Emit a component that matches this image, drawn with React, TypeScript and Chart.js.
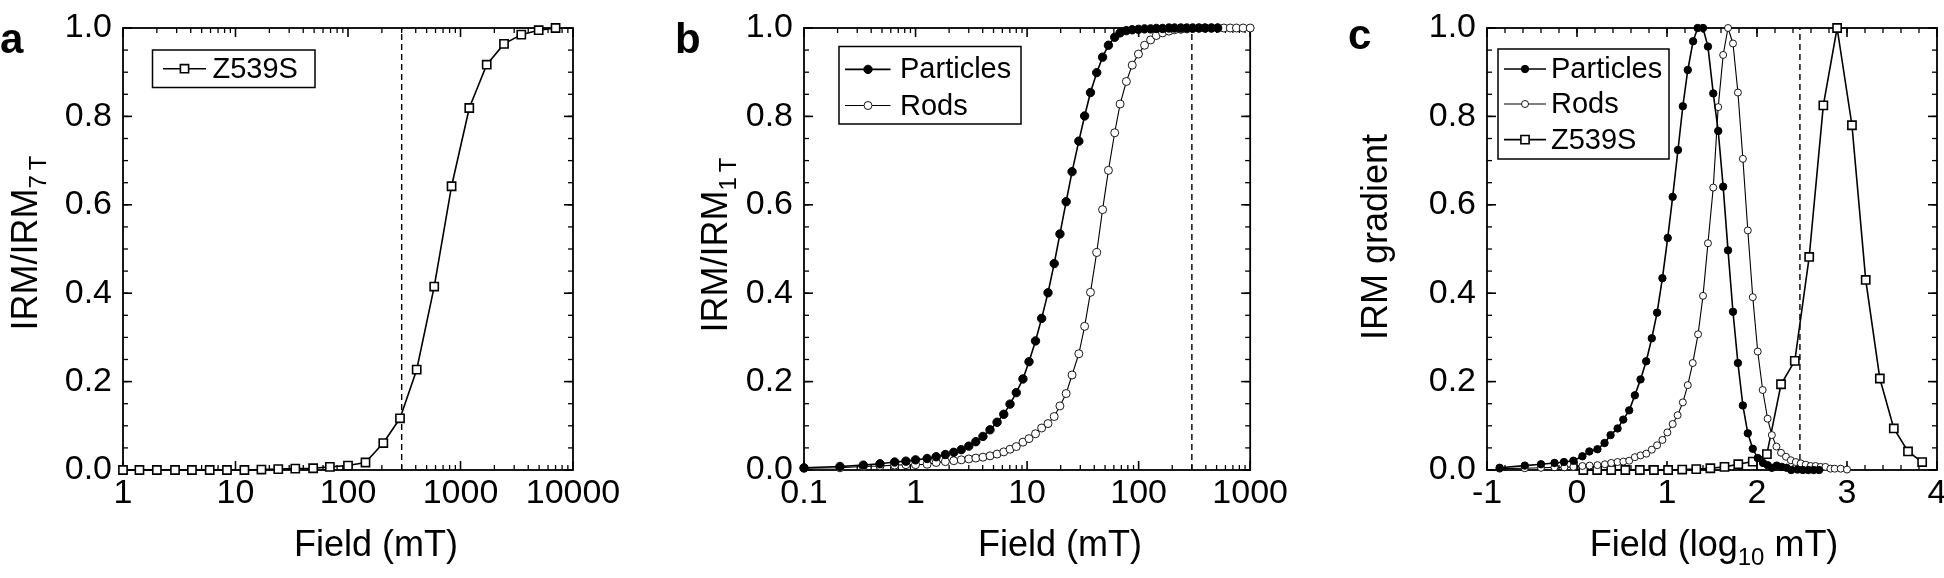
import React, { useEffect, useRef } from "react";
import { Chart, registerables } from "chart.js";
Chart.register(...registerables);

const FONT = '"Liberation Sans", Arial, Helvetica, sans-serif';
const PAGE_W = 1944;
const PAGE_H = 578;
const PLOT_TOP = 20;
const PLOT_BOTTOM = 470;

// ---------- tick labels ----------
const Y_TICKS = [0, 0.2, 0.4, 0.6, 0.8, 1.0];
const A_X_TICKS = [1, 10, 100, 1000, 10000];
const B_X_TICKS = [0.1, 1, 10, 100, 1000];
const C_X_TICKS = [-1, 0, 1, 2, 3, 4];

// ---------- vertical dashed line positions ----------
const DASH_FIELD_MT = 300;
const DASH_FIELD_LOG = 2.477;

// ---------- panel a: Z539S IRM acquisition ----------
const A_FIELD = [1, 1.4, 2, 2.9, 4.1, 5.9, 8.4, 12, 17, 24, 34, 49, 69, 100, 143, 206, 290, 408, 584, 833, 1197, 1710, 2437, 3470, 4955, 7000];
const A_IRM = [0, 0, 0, 0, 0, 0, 0, 0, 0.001, 0.002, 0.003, 0.004, 0.007, 0.01, 0.017, 0.061, 0.117, 0.227, 0.415, 0.642, 0.819, 0.917, 0.964, 0.985, 0.995, 1.0];

// ---------- panel b: particles & rods IRM acquisition ----------
const B_FIELD = [0.1, 0.21, 0.34, 0.48, 0.65, 0.82, 1.0, 1.27, 1.53, 1.85, 2.2, 2.57, 3.0, 3.47, 4.02, 4.65, 5.38, 6.18, 7.03, 8.0, 9.18, 10.4, 11.9, 13.5, 15.4, 17.5, 19.7, 22.4, 25.3, 29.1, 32.8, 37.0, 42.1, 47.5, 53.6, 61.0, 68.2, 77.6, 87.6, 99.6, 113, 128, 144, 164, 187, 210, 239, 270, 305, 347, 394, 449, 511, 581, 662, 753, 865, 1000];
const B_PARTICLES = [0.005, 0.008, 0.011, 0.014, 0.018, 0.02, 0.023, 0.026, 0.03, 0.035, 0.04, 0.046, 0.054, 0.064, 0.076, 0.091, 0.108, 0.126, 0.149, 0.175, 0.206, 0.245, 0.292, 0.343, 0.401, 0.467, 0.534, 0.607, 0.675, 0.744, 0.801, 0.854, 0.899, 0.934, 0.961, 0.979, 0.989, 0.994, 0.996, 0.997, 0.998, 0.998, 0.999, 0.999, 1.0, 1.0, 1.0, 1.0, 1.0, 1.0, 1.0, 1.0, 1.0];
const B_RODS = [0.004, 0.005, 0.008, 0.009, 0.011, 0.012, 0.012, 0.013, 0.017, 0.019, 0.021, 0.023, 0.025, 0.027, 0.029, 0.032, 0.036, 0.041, 0.047, 0.053, 0.063, 0.071, 0.082, 0.095, 0.105, 0.121, 0.145, 0.173, 0.215, 0.263, 0.325, 0.402, 0.492, 0.589, 0.678, 0.763, 0.828, 0.879, 0.916, 0.941, 0.961, 0.973, 0.983, 0.989, 0.993, 0.996, 0.997, 0.998, 0.999, 1.0, 1.0, 1.0, 1.0, 1.0, 1.0, 1.0, 1.0, 1.0];

// ---------- panel c: IRM gradients (log10 mT) ----------
const C_PART_X = [-0.86, -0.58, -0.4, -0.25, -0.145, -0.04, 0.06, 0.137, 0.227, 0.306, 0.373, 0.451, 0.514, 0.58, 0.643, 0.706, 0.769, 0.831, 0.89, 0.949, 1.008, 1.063, 1.122, 1.176, 1.231, 1.29, 1.341, 1.4, 1.455, 1.514, 1.569, 1.624, 1.678, 1.733, 1.788, 1.843, 1.898, 1.953, 2.008, 2.067, 2.118, 2.165, 2.22, 2.275, 2.33, 2.38, 2.45, 2.51, 2.57, 2.63, 2.69];
const C_PART_Y = [0.005, 0.01, 0.013, 0.016, 0.018, 0.021, 0.031, 0.042, 0.047, 0.061, 0.079, 0.094, 0.114, 0.135, 0.169, 0.205, 0.246, 0.298, 0.356, 0.434, 0.525, 0.618, 0.724, 0.823, 0.905, 0.97, 1.0, 1.0, 0.958, 0.852, 0.767, 0.641, 0.497, 0.358, 0.242, 0.146, 0.083, 0.048, 0.027, 0.016, 0.011, 0.005, 0.01, 0.007, 0.005, 0.0, 0.001, 0.0, 0.0, 0.0, 0.0];
const C_RODS_X = [-0.86, -0.58, -0.4, -0.25, -0.14, -0.04, 0.06, 0.14, 0.227, 0.31, 0.38, 0.45, 0.515, 0.58, 0.643, 0.706, 0.77, 0.831, 0.89, 0.949, 1.004, 1.063, 1.118, 1.176, 1.231, 1.286, 1.345, 1.4, 1.455, 1.514, 1.569, 1.624, 1.678, 1.733, 1.788, 1.843, 1.898, 1.953, 2.008, 2.063, 2.118, 2.165, 2.216, 2.267, 2.322, 2.376, 2.431, 2.486, 2.541, 2.596, 2.651, 2.706, 2.76, 2.816, 2.863, 2.93, 3.0];
const C_RODS_Y = [0.003, 0.004, 0.005, 0.006, 0.006, 0.007, 0.009, 0.01, 0.011, 0.013, 0.016, 0.018, 0.019, 0.021, 0.029, 0.033, 0.037, 0.046, 0.056, 0.068, 0.085, 0.104, 0.124, 0.153, 0.192, 0.242, 0.307, 0.394, 0.513, 0.639, 0.821, 0.939, 1.0, 0.965, 0.854, 0.704, 0.542, 0.391, 0.268, 0.181, 0.116, 0.079, 0.053, 0.039, 0.03, 0.022, 0.018, 0.015, 0.012, 0.009, 0.009, 0.007, 0.007, 0.003, 0.003, 0.003, 0.001];
const C_Z_X = [0.07, 0.224, 0.38, 0.537, 0.698, 0.855, 1.012, 1.169, 1.325, 1.482, 1.639, 1.792, 1.953, 2.11, 2.267, 2.42, 2.58, 2.737, 2.89, 3.055, 3.208, 3.365, 3.52, 3.678, 3.835];
const C_Z_Y = [0, 0, 0, 0, 0, 0, 0, 0.001, 0.002, 0.004, 0.007, 0.013, 0.019, 0.036, 0.194, 0.247, 0.482, 0.825, 1.0, 0.78, 0.43, 0.207, 0.094, 0.042, 0.018];

const pts = (xs: number[], ys: number[]) => ys.map((y, i) => ({ x: xs[i], y }));

type Marker = { kind: "circle" | "square"; size: number; fill: string; bw: number };
const SQUARE: Marker = { kind: "square", size: 8.2, fill: "#fff", bw: 1.6 };
const FILLED_B: Marker = { kind: "circle", size: 4.2, fill: "#000", bw: 1 };
const OPEN_B: Marker = { kind: "circle", size: 4.0, fill: "#fff", bw: 0.9 };
const FILLED_C: Marker = { kind: "circle", size: 3.7, fill: "#000", bw: 1 };
const OPEN_C: Marker = { kind: "circle", size: 3.5, fill: "#fff", bw: 0.9 };

function lineDs(label: string, data: any[], m: Marker, lw: number) {
  return {
    label,
    data,
    borderColor: "#000",
    borderWidth: lw,
    pointStyle: m.kind === "square" ? "rect" : "circle",
    pointRadius: m.kind === "square" ? m.size / Math.SQRT2 : m.size,
    pointBackgroundColor: m.fill,
    pointBorderColor: "#000",
    pointBorderWidth: m.bw,
    clip: false as const,
  };
}
function dashDs(x: number) {
  return {
    label: "dash",
    data: [{ x, y: 0 }, { x, y: 1 }],
    borderColor: "#000",
    borderWidth: 1.4,
    borderDash: [6, 4],
    pointRadius: 0,
    clip: false as const,
  };
}

type Part = [string, boolean];
type LegendRow = { label: string; y: number; m: Marker; lw: number };
type PanelCfg = {
  key: string;
  canvasL: number;
  canvasW: number;
  plotL: number;
  plotR: number;
  xType: "logarithmic" | "linear";
  xMin: number;
  xMax: number;
  xTicks: number[];
  xMinor: number[];
  datasets: any[];
  letter: string;
  letterX: number;
  letterY: number;
  xTitle: Part[];
  xTitleX: number;
  yTitle: Part[];
  yTitleX: number;
  yTitleY: number;
  legend: { box: number[]; lineX: number[]; markerX: number; textX: number; rows: LegendRow[] };
};

const logMinor = (majors: number[]) =>
  majors.slice(0, -1).flatMap((d) => [2, 3, 4, 5, 6, 7, 8, 9].map((k) => k * d));
const linMinor = (a: number, b: number, step: number) => {
  const out: number[] = [];
  for (let v = a; v <= b + 1e-9; v += step) out.push(v);
  return out;
};
const Y_MINOR = linMinor(0, 1, 0.05);

const PANELS: PanelCfg[] = [
  {
    key: "a",
    canvasL: 0,
    canvasW: 640,
    plotL: 123,
    plotR: 573,
    xType: "logarithmic",
    xMin: 1,
    xMax: 10000,
    xTicks: A_X_TICKS,
    xMinor: logMinor(A_X_TICKS),
    datasets: [
      lineDs("Z539S", pts(A_FIELD, A_IRM), SQUARE, 1.6),
      dashDs(DASH_FIELD_MT),
    ],
    letter: "a",
    letterX: 0,
    letterY: 53,
    xTitle: [["Field (mT)", false]],
    xTitleX: 376,
    yTitle: [["IRM/IRM", false], ["7\u2009T", true]],
    yTitleX: 37,
    yTitleY: 243,
    legend: {
      box: [152.5, 50, 315, 87.5],
      lineX: [163, 206],
      markerX: 184.5,
      textX: 212.5,
      rows: [{ label: "Z539S", y: 68.7, m: SQUARE, lw: 1.6 }],
    },
  },
  {
    key: "b",
    canvasL: 640,
    canvasW: 655,
    plotL: 804,
    plotR: 1254,
    xType: "logarithmic",
    xMin: 0.1,
    xMax: 1000,
    xTicks: B_X_TICKS,
    xMinor: logMinor(B_X_TICKS),
    datasets: [
      lineDs("Particles", pts(B_FIELD, B_PARTICLES), FILLED_B, 1.6),
      lineDs("Rods", pts(B_FIELD, B_RODS), OPEN_B, 1.1),
      dashDs(DASH_FIELD_MT),
    ],
    letter: "b",
    letterX: 675,
    letterY: 53,
    xTitle: [["Field (mT)", false]],
    xTitleX: 1060,
    yTitle: [["IRM/IRM", false], ["1\u2009T", true]],
    yTitleX: 727,
    yTitleY: 245,
    legend: {
      box: [839, 46.5, 1021, 124],
      lineX: [845, 890.5],
      markerX: 868,
      textX: 900,
      rows: [
        { label: "Particles", y: 69.4, m: FILLED_B, lw: 1.6 },
        { label: "Rods", y: 105.5, m: OPEN_B, lw: 1.1 },
      ],
    },
  },
  {
    key: "c",
    canvasL: 1295,
    canvasW: 700,
    plotL: 1487,
    plotR: 1937,
    xType: "linear",
    xMin: -1,
    xMax: 4,
    xTicks: C_X_TICKS,
    xMinor: linMinor(-1, 4, 0.2),
    datasets: [
      lineDs("Particles", pts(C_PART_X, C_PART_Y), FILLED_C, 1.6),
      lineDs("Rods", pts(C_RODS_X, C_RODS_Y), OPEN_C, 1.1),
      lineDs("Z539S", pts(C_Z_X, C_Z_Y), SQUARE, 1.6),
      dashDs(DASH_FIELD_LOG),
    ],
    letter: "c",
    letterX: 1348,
    letterY: 49,
    xTitle: [["Field (log", false], ["10", true], [" mT)", false]],
    xTitleX: 1714,
    yTitle: [["IRM gradient", false]],
    yTitleX: 1387,
    yTitleY: 237,
    legend: {
      box: [1498, 49, 1669, 159],
      lineX: [1504, 1546],
      markerX: 1525,
      textX: 1551,
      rows: [
        { label: "Particles", y: 69, m: FILLED_C, lw: 1.6 },
        { label: "Rods", y: 104, m: OPEN_C, lw: 1.1 },
        { label: "Z539S", y: 139.6, m: SQUARE, lw: 1.6 },
      ],
    },
  },
];

const TICK_SIZE = 34;
const TITLE_SIZE = 36;
const SUB_SIZE = 24;
const LEGEND_SIZE = 29;

function drawRich(ctx: CanvasRenderingContext2D, parts: Part[], x: number, y: number) {
  const widths = parts.map(([t, sub]) => {
    ctx.font = `${sub ? SUB_SIZE : TITLE_SIZE}px ${FONT}`;
    return ctx.measureText(t).width;
  });
  const total = widths.reduce((a, b) => a + b, 0);
  let cx = x - total / 2;
  ctx.textAlign = "left";
  ctx.textBaseline = "alphabetic";
  parts.forEach(([t, sub], i) => {
    ctx.font = `${sub ? SUB_SIZE : TITLE_SIZE}px ${FONT}`;
    ctx.fillText(t, cx, y + (sub ? 9 : 0));
    cx += widths[i];
  });
}

function drawMarker(ctx: CanvasRenderingContext2D, m: Marker, x: number, y: number) {
  ctx.beginPath();
  if (m.kind === "circle") ctx.arc(x, y, m.size, 0, Math.PI * 2);
  else ctx.rect(x - m.size / 2, y - m.size / 2, m.size, m.size);
  ctx.fillStyle = m.fill;
  ctx.fill();
  ctx.lineWidth = m.bw;
  ctx.strokeStyle = "#000";
  ctx.stroke();
}

function makeDecor(p: PanelCfg) {
  const ox = p.canvasL;
  return {
    id: "decor",
    beforeDatasetsDraw(chart: any) {
      const { ctx, chartArea: a } = chart;
      const xs = chart.scales.x;
      const ys = chart.scales.y;
      ctx.save();
      ctx.strokeStyle = "#000";
      const seg = (x1: number, y1: number, x2: number, y2: number) => {
        ctx.beginPath();
        ctx.moveTo(x1, y1);
        ctx.lineTo(x2, y2);
        ctx.stroke();
      };
      ctx.lineWidth = 1.3;
      p.xMinor.forEach((v) => {
        const x = xs.getPixelForValue(v);
        seg(x, a.bottom, x, a.bottom - 5);
        seg(x, a.top, x, a.top + 5);
      });
      Y_MINOR.forEach((v) => {
        const y = ys.getPixelForValue(v);
        seg(a.left, y, a.left + 5, y);
        seg(a.right, y, a.right - 5, y);
      });
      ctx.lineWidth = 1.6;
      p.xTicks.forEach((v) => {
        const x = xs.getPixelForValue(v);
        seg(x, a.bottom, x, a.bottom - 9);
        seg(x, a.top, x, a.top + 9);
      });
      Y_TICKS.forEach((v) => {
        const y = ys.getPixelForValue(v);
        seg(a.left, y, a.left + 9, y);
        seg(a.right, y, a.right - 9, y);
      });
      ctx.lineWidth = 1.8;
      ctx.strokeRect(a.left, a.top, a.right - a.left, a.bottom - a.top);
      ctx.restore();
    },
    afterDraw(chart: any) {
      const ctx: CanvasRenderingContext2D = chart.ctx;
      ctx.save();
      ctx.fillStyle = "#000";
      // panel letter
      ctx.font = `bold 42px ${FONT}`;
      ctx.textAlign = "left";
      ctx.textBaseline = "alphabetic";
      ctx.fillText(p.letter, p.letterX - ox, p.letterY);
      // x title
      drawRich(ctx, p.xTitle, p.xTitleX - ox, 556);
      // y title
      ctx.save();
      ctx.translate(p.yTitleX - ox, p.yTitleY);
      ctx.rotate(-Math.PI / 2);
      drawRich(ctx, p.yTitle, 0, 0);
      ctx.restore();
      // legend
      const L = p.legend;
      ctx.strokeStyle = "#000";
      ctx.lineWidth = 1.5;
      ctx.strokeRect(L.box[0] - ox, L.box[1], L.box[2] - L.box[0], L.box[3] - L.box[1]);
      L.rows.forEach((r) => {
        ctx.lineWidth = r.lw;
        ctx.beginPath();
        ctx.moveTo(L.lineX[0] - ox, r.y);
        ctx.lineTo(L.lineX[1] - ox, r.y);
        ctx.stroke();
        drawMarker(ctx, r.m, L.markerX - ox, r.y);
        ctx.fillStyle = "#000";
        ctx.font = `${LEGEND_SIZE}px ${FONT}`;
        ctx.textAlign = "left";
        ctx.textBaseline = "middle";
        ctx.fillText(r.label, L.textX - ox, r.y + 1);
      });
      ctx.restore();
    },
  };
}

function Panel({ p }: { p: PanelCfg }) {
  const ref = useRef<HTMLCanvasElement | null>(null);
  useEffect(() => {
    if (!ref.current) return;
    const chart = new Chart(ref.current, {
      type: "line",
      data: { datasets: p.datasets },
      options: {
        animation: false,
        responsive: false,
        devicePixelRatio: 1,
        layout: {
          padding: { left: 0, right: p.canvasW - (p.plotR - p.canvasL), top: PLOT_TOP, bottom: 0 },
        },
        plugins: { legend: { display: false }, tooltip: { enabled: false } },
        elements: { line: { tension: 0 } },
        scales: {
          x: {
            type: p.xType,
            min: p.xMin,
            max: p.xMax,
            position: "bottom",
            grid: { display: false, drawTicks: false },
            border: { display: false },
            ticks: {
              color: "#000",
              font: { family: FONT, size: TICK_SIZE, lineHeight: 1 },
              padding: 7,
              autoSkip: false,
              maxRotation: 0,
              minRotation: 0,
              callback: (v: any) => String(v),
            },
            afterBuildTicks: (s: any) => {
              s.ticks = p.xTicks.map((v) => ({ value: v }));
            },
            afterFit: (s: any) => {
              s.height = PAGE_H - PLOT_BOTTOM;
            },
          },
          y: {
            type: "linear",
            min: 0,
            max: 1,
            grid: { display: false, drawTicks: false },
            border: { display: false },
            ticks: {
              color: "#000",
              font: { family: FONT, size: TICK_SIZE, lineHeight: 1 },
              padding: 11,
              callback: (v: any) => Number(v).toFixed(1),
            },
            afterBuildTicks: (s: any) => {
              s.ticks = Y_TICKS.map((v) => ({ value: v }));
            },
            afterFit: (s: any) => {
              s.width = p.plotL - p.canvasL;
            },
          },
        },
      } as any,
      plugins: [makeDecor(p)],
    });
    return () => chart.destroy();
  }, []);
  return (
    <canvas
      ref={ref}
      width={p.canvasW}
      height={PAGE_H}
      style={{ position: "absolute", left: p.canvasL, top: 0, width: p.canvasW, height: PAGE_H }}
    />
  );
}

export default function App() {
  return (
    <div
      style={{
        position: "fixed",
        left: 0,
        top: 0,
        width: PAGE_W,
        height: PAGE_H,
        overflow: "hidden",
        background: "#fff",
      }}
    >
      {PANELS.map((p) => (
        <Panel key={p.key} p={p} />
      ))}
    </div>
  );
}
